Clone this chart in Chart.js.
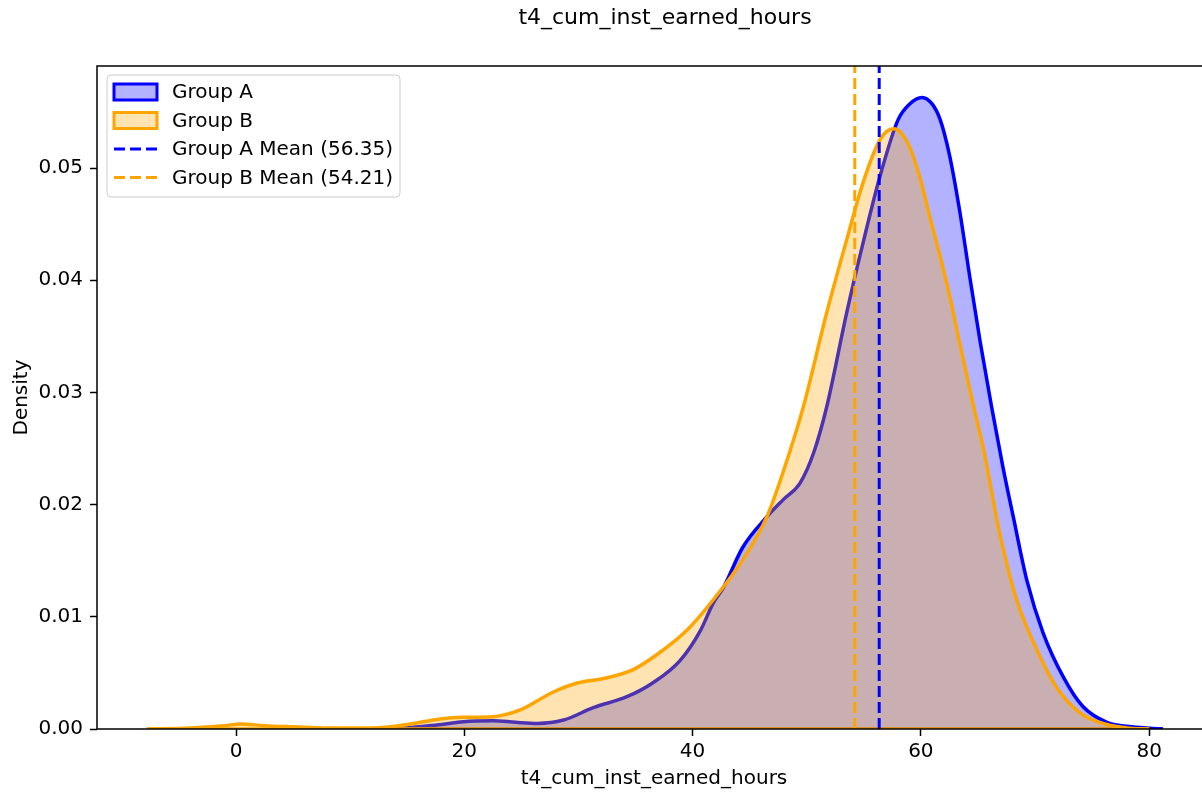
<!DOCTYPE html>
<html>
<head>
<meta charset="utf-8">
<script src="https://cdn.jsdelivr.net/npm/chart.js@4/dist/chart.umd.min.js"></script>
<style>
  html, body { margin: 0; background: #fff; overflow: hidden; }
  #wrap { width: 1330px; height: 793px; }
</style>
</head>
<body>
<div id="wrap"><canvas id="chart" width="1330" height="793"></canvas></div>
<script>
// values
const chartTitle = "t4_cum_inst_earned_hours";
const xLabel = "t4_cum_inst_earned_hours";
const yLabel = "Density";

const groupAX = [14.0, 16.0, 18.0, 19.9, 22.5, 24.5, 26.4, 28.7, 31.3, 34.3, 36.5, 38.9, 40.7, 41.8, 42.7, 44.4, 46.5, 47.9, 49.4, 50.6, 51.75, 53.5, 55.0, 56.4, 58.0, 59.0, 60.1, 61.0, 61.7, 62.5, 63.4, 64.3, 65.2, 66.2, 67.2, 68.1, 69.3, 70.7, 72.5, 74.2, 76.3, 78.5, 81.2];
const groupAY = [0.0000, 0.0002, 0.0004, 0.00065, 0.00074, 0.0006, 0.0005, 0.0008, 0.0019, 0.0029, 0.0041, 0.0061, 0.0088, 0.0112, 0.0126, 0.0162, 0.0189, 0.0204, 0.0219, 0.0246, 0.0287, 0.0371, 0.0436, 0.0492, 0.0543, 0.0557, 0.0563, 0.0557, 0.0543, 0.0512, 0.0462, 0.0402, 0.0345, 0.0287, 0.0233, 0.0189, 0.0132, 0.0086, 0.0046, 0.0020, 0.0006, 0.0002, 0.0000];

const groupBX = [-7.8, -4.0, -1.0, 0.4, 2.5, 5.0, 8.0, 12.0, 15.0, 17.9, 19.9, 22.5, 24.9, 27.8, 29.9, 32.2, 34.8, 37.1, 39.5, 41.8, 44.4, 46.5, 47.9, 49.7, 51.75, 53.5, 55.0, 56.4, 57.6, 58.3, 59.05, 59.9, 60.8, 61.7, 62.55, 63.4, 64.7, 65.5, 66.9, 68.4, 70.2, 71.9, 74.0, 76.3, 78.0, 80.0];
const groupBY = [0.0000, 0.0001, 0.0003, 0.00045, 0.0003, 0.0002, 0.0001, 0.0001, 0.0004, 0.0009, 0.00104, 0.0011, 0.0017, 0.0033, 0.0041, 0.0045, 0.0053, 0.0068, 0.0088, 0.0115, 0.0151, 0.0189, 0.0228, 0.0287, 0.0371, 0.0436, 0.0489, 0.0525, 0.0535, 0.0531, 0.0518, 0.0492, 0.0456, 0.0421, 0.0385, 0.0344, 0.0284, 0.0249, 0.0175, 0.0115, 0.0070, 0.0037, 0.0014, 0.0004, 0.0001, 0.0000];

const meanA = 56.35;
const meanB = 54.21;

const xTicks = [0, 20, 40, 60, 80];
const yTicks = [0, 0.01, 0.02, 0.03, 0.04, 0.05];
const xMin = -12.18, xMax = 85.42;
const yMin = 0, yMax = 0.0591;

const legendLabels = ["Group A", "Group B", "Group A Mean (" + meanA.toFixed(2) + ")", "Group B Mean (" + meanB.toFixed(2) + ")"];

const blue = "#0000ff";
const orange = "#ffa500";
const font = "DejaVu Sans";

function pts(xs, ys) {
  return xs.map((x, i) => ({ x: x, y: ys[i] }));
}

// frame round the axes and a matplotlib-like legend in the upper left
const frameAndLegend = {
  id: "frameAndLegend",
  afterDatasetsDraw(chart) {
    const ctx = chart.ctx;
    const a = chart.chartArea;
    ctx.save();
    ctx.strokeStyle = "#000";
    ctx.lineWidth = 1.5;
    ctx.strokeRect(a.left, a.top, a.right - a.left, a.bottom - a.top);

    const bx = a.left + 10, by = a.top + 9, bw = 293, bh = 122;
    ctx.beginPath();
    ctx.roundRect(bx, by, bw, bh, 4);
    ctx.fillStyle = "rgba(255,255,255,0.8)";
    ctx.fill();
    ctx.strokeStyle = "#cccccc";
    ctx.lineWidth = 1;
    ctx.stroke();

    const items = [
      { type: "patch", color: blue, fill: "rgba(0,0,255,0.3)" },
      { type: "patch", color: orange, fill: "rgba(255,165,0,0.3)" },
      { type: "dash", color: blue },
      { type: "dash", color: orange }
    ];
    ctx.font = "20px " + font;
    ctx.textBaseline = "middle";
    items.forEach((it, i) => {
      const cy = by + 17 + i * 28.5;
      const x0 = bx + 7, x1 = bx + 50;
      if (it.type === "patch") {
        ctx.fillStyle = it.fill;
        ctx.fillRect(x0, cy - 8, x1 - x0, 16);
        ctx.strokeStyle = it.color;
        ctx.lineWidth = 3;
        ctx.setLineDash([]);
        ctx.strokeRect(x0, cy - 8, x1 - x0, 16);
      } else {
        ctx.strokeStyle = it.color;
        ctx.lineWidth = 3;
        ctx.setLineDash([11, 5]);
        ctx.beginPath();
        ctx.moveTo(x0, cy);
        ctx.lineTo(x1, cy);
        ctx.stroke();
        ctx.setLineDash([]);
      }
      ctx.fillStyle = "#000";
      ctx.fillText(legendLabels[i], bx + 65, cy + 1);
    });
    ctx.restore();
  }
};

new Chart(document.querySelector("#chart"), {
  type: "line",
  data: {
    datasets: [
      {
        label: "Group A",
        data: pts(groupAX, groupAY),
        borderColor: blue,
        backgroundColor: "rgba(0,0,255,0.3)",
        borderWidth: 3.5,
        fill: "origin",
        pointRadius: 0,
        cubicInterpolationMode: "monotone",
        order: 5
      },
      {
        label: "Group A edge",
        data: [{ x: groupAX[0], y: 0 }, { x: groupAX[groupAX.length - 1], y: 0 }],
        borderColor: blue,
        borderWidth: 3.5,
        pointRadius: 0,
        fill: false,
        order: 4
      },
      {
        label: "Group B",
        data: pts(groupBX, groupBY),
        borderColor: orange,
        backgroundColor: "rgba(255,165,0,0.3)",
        borderWidth: 3.5,
        fill: "origin",
        pointRadius: 0,
        cubicInterpolationMode: "monotone",
        order: 3
      },
      {
        label: "Group B edge",
        data: [{ x: groupBX[0], y: 0 }, { x: groupBX[groupBX.length - 1], y: 0 }],
        borderColor: orange,
        borderWidth: 3.5,
        pointRadius: 0,
        fill: false,
        order: 2
      },
      {
        label: legendLabels[2],
        data: [{ x: meanA, y: yMin }, { x: meanA, y: yMax }],
        borderColor: blue,
        borderWidth: 3,
        borderDash: [11, 5],
        pointRadius: 0,
        fill: false,
        order: 1
      },
      {
        label: legendLabels[3],
        data: [{ x: meanB, y: yMin }, { x: meanB, y: yMax }],
        borderColor: orange,
        borderWidth: 3,
        borderDash: [11, 5],
        pointRadius: 0,
        fill: false,
        order: 0
      }
    ]
  },
  options: {
    responsive: false,
    animation: false,
    devicePixelRatio: 1,
    layout: { padding: 0 },
    plugins: {
      legend: { display: false },
      tooltip: { enabled: false },
      title: {
        display: true,
        text: chartTitle,
        color: "#000",
        font: { family: font, size: 22, weight: "normal", lineHeight: 1.2 },
        padding: { top: 5, bottom: 34.6 }
      }
    },
    scales: {
      x: {
        type: "linear",
        min: xMin,
        max: xMax,
        afterBuildTicks: (s) => { s.ticks = xTicks.map(v => ({ value: v })); },
        afterFit: (s) => { s.height = 64; },
        grid: { drawOnChartArea: false, drawTicks: true, tickLength: 7, tickWidth: 1.5, tickColor: "#000" },
        border: { display: false },
        ticks: {
          color: "#000",
          font: { family: font, size: 20 },
          padding: 4,
          autoSkip: false,
          maxRotation: 0,
          callback: (v) => String(v)
        },
        title: {
          display: true,
          text: xLabel,
          color: "#000",
          font: { family: font, size: 20, lineHeight: 1.2 },
          padding: { top: 0, bottom: 2 }
        }
      },
      y: {
        type: "linear",
        min: yMin,
        max: yMax,
        afterBuildTicks: (s) => { s.ticks = yTicks.map(v => ({ value: v })); },
        afterFit: (s) => { s.width = 97; },
        grid: { drawOnChartArea: false, drawTicks: true, tickLength: 7, tickWidth: 1.5, tickColor: "#000" },
        border: { display: false },
        ticks: {
          color: "#000",
          font: { family: font, size: 20 },
          padding: 7,
          autoSkip: false,
          callback: (v) => v.toFixed(2)
        },
        title: {
          display: true,
          text: yLabel,
          color: "#000",
          font: { family: font, size: 20, lineHeight: 1.2 },
          padding: { top: 10, bottom: 0 }
        }
      },
      // empty right-hand strip so the axes end where the figure margin starts
      yRight: {
        type: "linear",
        position: "right",
        display: true,
        afterFit: (s) => { s.width = 119; },
        grid: { display: false },
        border: { display: false },
        ticks: { display: false }
      }
    }
  },
  plugins: [frameAndLegend]
});
</script>
</body>
</html>
